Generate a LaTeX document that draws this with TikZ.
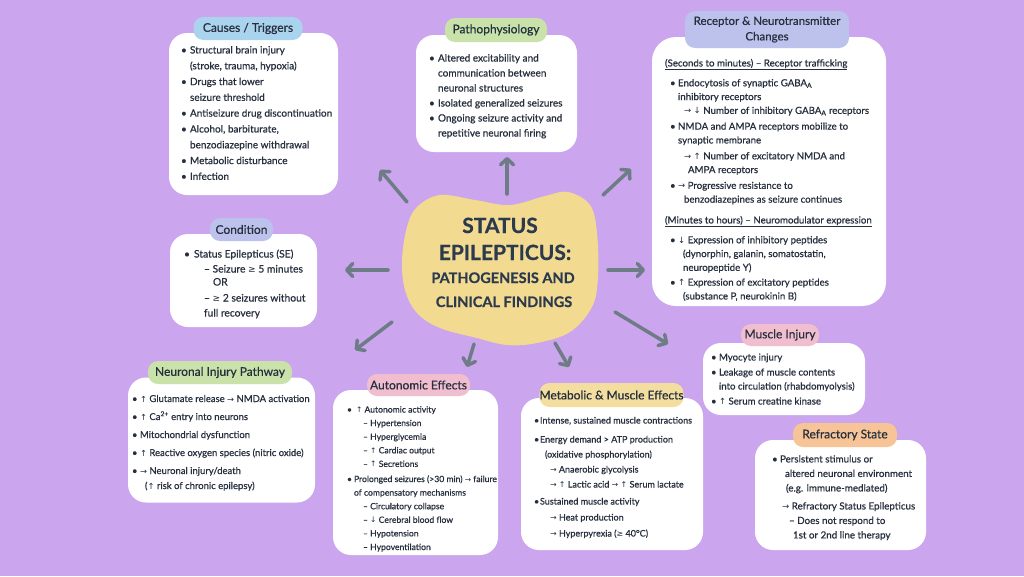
\documentclass[tikz,border=0pt]{standalone}
\usepackage{fontspec}
\usepackage{graphicx}
\setmainfont{Lato}[FakeBold=0.6]
\newfontfamily\symf{DejaVu Sans}
\usetikzlibrary{arrows.meta}
\definecolor{bg}{RGB}{203,165,237}
\definecolor{ink}{RGB}{38,47,62}
\definecolor{titleink}{RGB}{44,58,78}
\definecolor{arrowc}{RGB}{110,124,134}
\definecolor{pblue}{RGB}{170,212,238}
\definecolor{pgreen}{RGB}{200,226,170}
\definecolor{pperi}{RGB}{188,194,236}
\definecolor{ppink}{RGB}{240,190,206}
\definecolor{pyellow}{RGB}{243,222,160}
\definecolor{porange}{RGB}{246,196,150}
\definecolor{blobc}{RGB}{242,218,145}
\newcommand\myra{{\symf\scalebox{0.88}{→}}}
\newcommand\myua{{\symf\scalebox{0.88}{↑}}}
\newcommand\myda{{\symf\scalebox{0.88}{↓}}}
\newcommand\myge{{\symf\scalebox{0.88}{≥}}}
\newcommand\mybul[1][8]{\makebox[#1pt][l]{•}}
\newcommand\myind[1]{\hspace*{#1pt}}
\tikzset{
  wbox/.style={fill=white, rounded corners=18pt, inner sep=0pt, draw=none},
  pill/.style={rounded corners=10pt, inner sep=0pt, text=ink, font=\fontsize{12}{14}\selectfont, align=center},
  txt/.style={anchor=north west, inner sep=0pt, outer sep=0pt, align=left, text=ink},
  arr/.style={draw=arrowc, line width=3.5pt, line cap=round, -{Straight Barb[length=6pt,width=13pt,round]}},
  ttl/.style={anchor=base, inner sep=0pt, text=titleink}
}
\begin{document}
\begin{tikzpicture}[x=1pt,y=-1pt]
\fill[bg] (0,0) rectangle (1024,576);
\useasboundingbox (0,0) rectangle (1024,576);

% central blob
\fill[blobc] plot[smooth cycle, tension=0.6] coordinates {(440,195) (475,200) (510,205) (545,196) (568,192) (590,205) (597,233) (598,277) (592,307) (570,332) (537,343) (507,345) (477,338) (440,328) (417,313) (405,290) (402,260) (407,227) (417,207)};
\node[ttl, font=\fontsize{21}{24}\bfseries] (t1) at (500,233) {STATUS};
\node[ttl, font=\fontsize{21}{24}\bfseries] (t2) at (505,260) {EPILEPTICUS:};
\node[ttl, font=\fontsize{14.5}{17}\bfseries] (t3) at (503,283) {PATHOGENESIS AND};
\node[ttl, font=\fontsize{14.5}{17}\bfseries] (t4) at (504,307) {CLINICAL FINDINGS};

% boxes
\node[wbox, minimum width=169pt, minimum height=162pt] (causes) at (253.5,114) {};
\node[wbox, minimum width=161pt, minimum height=117pt] (patho) at (496.5,93.5) {};
\node[wbox, minimum width=234pt, minimum height=269pt, rounded corners=24pt] (recep) at (769,171.5) {};
\node[wbox, minimum width=147pt, minimum height=93pt] (cond) at (243.5,280.5) {};
\node[wbox, minimum width=187pt, minimum height=125pt] (neuro) at (221.5,440) {};
\node[wbox, minimum width=165pt, minimum height=165pt] (auto) at (415.5,472.5) {};
\node[wbox, minimum width=182pt, minimum height=152pt] (meta) at (612,474) {};
\node[wbox, minimum width=162pt, minimum height=72pt] (muscle) at (784,379) {};
\node[wbox, minimum width=171pt, minimum height=110pt] (refr) at (840.5,495) {};

% pills
\node[pill, fill=pblue, minimum width=109pt, minimum height=23pt] (causesT) at (248,28.5) {Causes / Triggers};
\node[pill, fill=pgreen, minimum width=102pt, minimum height=24pt] (pathoT) at (496,30) {Pathophysiology};
\node[pill, fill=pperi, minimum width=164pt, minimum height=37pt, font=\fontsize{11.5}{15.5}\selectfont] (recepT) at (767,29.5) {Receptor \& Neurotransmitter\\Changes};
\node[pill, fill=pperi, minimum width=63pt, minimum height=23pt] (condT) at (241.5,229.5) {Condition};
\node[pill, fill=pgreen, minimum width=144pt, minimum height=23pt] (neuroT) at (220,372.5) {Neuronal Injury Pathway};
\node[pill, fill=ppink, minimum width=103pt, minimum height=22pt] (autoT) at (418.5,385) {Autonomic Effects};
\node[pill, fill=pyellow, minimum width=143pt, minimum height=24pt] (metaT) at (611.5,395) {Metabolic \& Muscle Effects};
\node[pill, fill=ppink, minimum width=78pt, minimum height=22pt] (muscleT) at (780,335) {Muscle Injury};
\node[pill, fill=porange, minimum width=104pt, minimum height=24pt] (refrT) at (845,435) {Refractory State};

% texts
\node[txt, font=\fontsize{10}{15.8}\selectfont] (causesX) at (181,42.4) {\strut\mybul[9]Structural brain injury\\
\myind{9}(stroke, trauma, hypoxia)\\
\mybul[9]Drugs that lower\\
\myind{9}seizure threshold\\
\mybul[9]Antiseizure drug discontinuation\\
\mybul[9]Alcohol, barbiturate,\\
\myind{9}benzodiazepine withdrawal\\
\mybul[9]Metabolic disturbance\\
\mybul[9]Infection};

\node[txt, font=\fontsize{10}{15}\selectfont] (pathoX) at (429,51) {\strut\mybul[9]Altered excitability and\\
\myind{9}communication between\\
\myind{9}neuronal structures\\
\mybul[9]Isolated generalized seizures\\
\mybul[9]Ongoing seizure activity and\\
\myind{9}repetitive neuronal firing};

\node[txt, font=\fontsize{9.7}{13.8}\selectfont] (recepX) at (665,56.8) {\strut\underline{(Seconds to minutes) – Receptor trafficking}\\[6pt]
\myind{5}\mybul[8]Endocytosis of synaptic GABA\textsubscript{A}\\
\myind{13}inhibitory receptors\\
\myind{19}\myra\ \myda\ Number of inhibitory GABA\textsubscript{A} receptors\\[2pt]
\myind{5}\mybul[8]NMDA and AMPA receptors mobilize to\\
\myind{13}synaptic membrane\\[2pt]
\myind{19}\myra\ \myua\ Number of excitatory NMDA and\\
\myind{23}AMPA receptors\\[2pt]
\myind{5}\mybul[8]\myra\ Progressive resistance to\\
\myind{19}benzodiazepines as seizure continues\\[7pt]
\underline{(Minutes to hours) – Neuromodulator expression}\\[6pt]
\myind{5}\mybul[8]\myda\ Expression of inhibitory peptides\\
\myind{18}(dynorphin, galanin, somatostatin,\\
\myind{18}neuropeptide Y)\\[1pt]
\myind{5}\mybul[8]\myua\ Expression of excitatory peptides\\
\myind{18}(substance P, neurokinin B)};

\node[txt, font=\fontsize{10.3}{15}\selectfont] (condX) at (184,247) {\strut\mybul[10]Status Epilepticus (SE)\\
\myind{20}– Seizure \myge\ 5 minutes\\[-2pt]
\myind{29}OR\\[1pt]
\myind{20}– \myge\ 2 seizures without\\
\myind{20}full recovery};

\node[txt, font=\fontsize{9.5}{18}\selectfont] (neuroX) at (132,389.4) {\strut\mybul[8]\myua\ Glutamate release \myra\ NMDA activation\\
\mybul[8]\myua\ Ca\textsuperscript{2+} entry into neurons\\
\mybul[8]Mitochondrial dysfunction\\
\mybul[8]\myua\ Reactive oxygen species (nitric oxide)\\
\mybul[8]\myra\ Neuronal injury/death\\[-3pt]
\myind{13}(\myua\ risk of chronic epilepsy)};

\node[txt, font=\fontsize{8.6}{13.6}\selectfont] (autoX) at (347,403) {\strut\mybul[9]\myua\ Autonomic activity\\
\myind{16}– Hypertension\\
\myind{16}– Hyperglycemia\\
\myind{16}– \myua\ Cardiac output\\
\myind{16}– \myua\ Secretions\\[1.5pt]
\mybul[7]Prolonged seizures (>30 min) \myra\ failure\\
\myind{7}of compensatory mechanisms\\
\myind{16}– Circulatory collapse\\
\myind{16}– \myda\ Cerebral blood flow\\
\myind{16}– Hypotension\\
\myind{16}– Hypoventilation};

\node[txt, font=\fontsize{9}{15}\selectfont] (metaX) at (534,413) {\strut\mybul[6]Intense, sustained muscle contractions\\[4pt]
\mybul[6]Energy demand > ATP production\\
\myind{11}(oxidative phosphorylation)\\
\myind{16}\myra\ Anaerobic glycolysis\\
\myind{16}\myra\ \myua\ Lactic acid \myra\ \myua\ Serum lactate\\[2pt]
\mybul[6]Sustained muscle activity\\[1pt]
\myind{16}\myra\ Heat production\\[1pt]
\myind{16}\myra\ Hyperpyrexia (\myge\ 40°C)};

\node[txt, font=\fontsize{9.6}{15}\selectfont] (muscleX) at (711,350) {\strut\mybul[8]Myocyte injury\\
\mybul[8]Leakage of muscle contents\\[-1pt]
\myind{8}into circulation (rhabdomyolysis)\\
\mybul[8]\myua\ Serum creatine kinase};

\node[txt, font=\fontsize{9.8}{14.5}\selectfont] (refrX) at (772,452.3) {\strut\mybul[8]Persistent stimulus or\\
\myind{13}altered neuronal environment\\
\myind{14}(e.g. immune-mediated)\\[3.5pt]
\myind{10}\myra\ Refractory Status Epilepticus\\
\myind{17}– Does not respond to\\
\myind{21}1st or 2nd line therapy};

% arrows
\coordinate (s1) at (407,202); \coordinate (e1) at (380,170);
\coordinate (s2) at (507,194); \coordinate (e2) at (507,157);
\coordinate (s3) at (603,195); \coordinate (e3) at (631,169);
\coordinate (s4) at (388,270); \coordinate (e4) at (345,270);
\coordinate (s5) at (608,270); \coordinate (e5) at (645,270);
\coordinate (s6) at (392,322); \coordinate (e6) at (355,350);
\coordinate (s7) at (474,344); \coordinate (e7) at (467,367);
\coordinate (s8) at (555,343); \coordinate (e8) at (569,367);
\coordinate (s9) at (615,312); \coordinate (e9) at (668,344);
\foreach \i in {1,...,9} { \draw[arr] (s\i) -- (e\i); }
\end{tikzpicture}
\end{document}
